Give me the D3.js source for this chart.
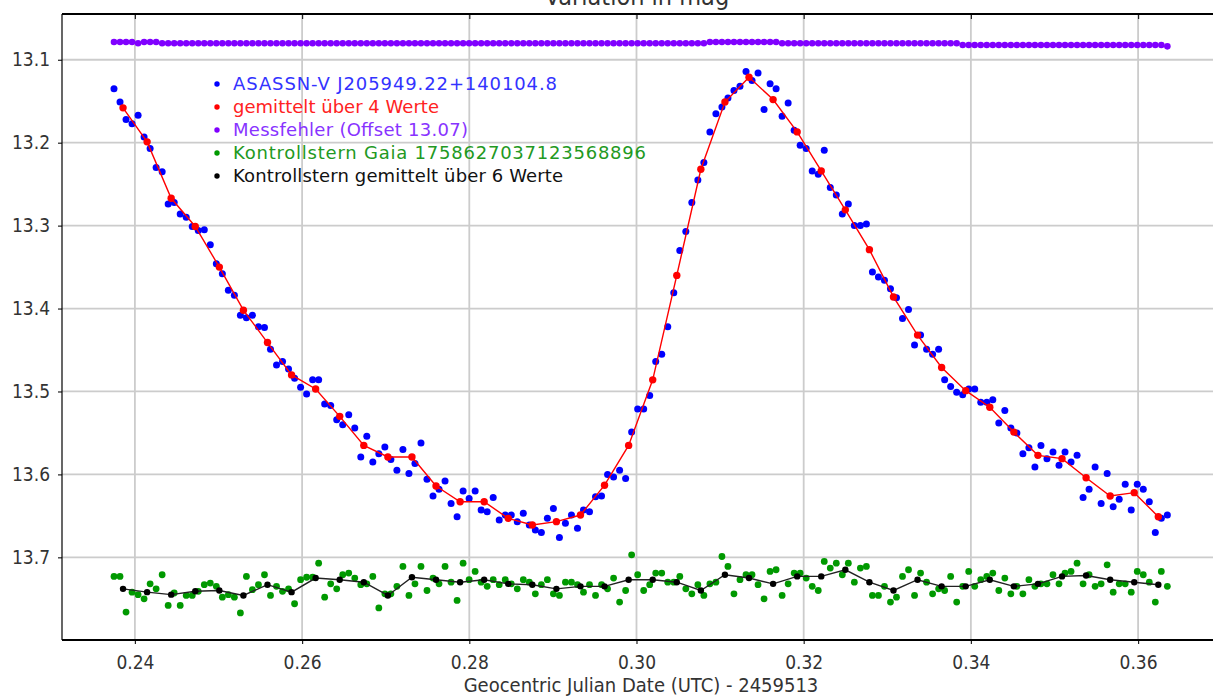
<!DOCTYPE html>
<html>
<head>
<meta charset="utf-8">
<script src="https://cdn.jsdelivr.net/npm/d3@7"></script>
<style>
  body { margin: 0; background: #fff; }
  svg { display: block; }
</style>
</head>
<body>
<div id="chart"></div>
<script>
// geocentric JD - 2459513, one entry per measurement
const times = [
  0.23750,0.23822,0.23894,0.23966,0.24038,0.24110,0.24182,0.24254,0.24326,0.24398,
  0.24470,0.24542,0.24614,0.24686,0.24758,0.24830,0.24902,0.24974,0.25046,0.25118,
  0.25190,0.25262,0.25334,0.25406,0.25478,0.25550,0.25622,0.25694,0.25766,0.25838,
  0.25910,0.25982,0.26054,0.26126,0.26198,0.26270,0.26342,0.26414,0.26486,0.26558,
  0.26630,0.26702,0.26774,0.26846,0.26918,0.26990,0.27062,0.27134,0.27206,0.27278,
  0.27350,0.27422,0.27494,0.27566,0.27638,0.27710,0.27782,0.27854,0.27926,0.27998,
  0.28070,0.28142,0.28214,0.28286,0.28358,0.28430,0.28502,0.28574,0.28646,0.28718,
  0.28790,0.28862,0.28934,0.29006,0.29078,0.29150,0.29222,0.29294,0.29366,0.29438,
  0.29510,0.29582,0.29654,0.29726,0.29798,0.29870,0.29942,0.30014,0.30086,0.30158,
  0.30230,0.30302,0.30374,0.30446,0.30518,0.30590,0.30662,0.30734,0.30806,0.30878,
  0.30950,0.31022,0.31094,0.31166,0.31238,0.31310,0.31382,0.31454,0.31526,0.31598,
  0.31670,0.31742,0.31814,0.31886,0.31958,0.32030,0.32102,0.32174,0.32246,0.32318,
  0.32390,0.32462,0.32534,0.32606,0.32678,0.32750,0.32822,0.32894,0.32966,0.33038,
  0.33110,0.33182,0.33254,0.33326,0.33398,0.33470,0.33542,0.33614,0.33686,0.33758,
  0.33830,0.33902,0.33974,0.34046,0.34118,0.34190,0.34262,0.34334,0.34406,0.34478,
  0.34550,0.34622,0.34694,0.34766,0.34838,0.34910,0.34982,0.35054,0.35126,0.35198,
  0.35270,0.35342,0.35414,0.35486,0.35558,0.35630,0.35702,0.35774,0.35846,0.35918,
  0.35990,0.36062,0.36134,0.36206,0.36278,0.36350
];

// ASASSN-V J205949.22+140104.8 (mag)
const asassnMag = [
  13.135,13.151,13.172,13.177,13.167,13.193,13.207,13.230,13.235,13.274,
  13.272,13.286,13.290,13.301,13.306,13.305,13.323,13.346,13.358,13.378,
  13.384,13.408,13.411,13.408,13.422,13.423,13.449,13.468,13.464,13.473,
  13.484,13.495,13.503,13.486,13.486,13.515,13.517,13.534,13.540,13.528,
  13.544,13.579,13.554,13.585,13.575,13.567,13.582,13.595,13.570,13.599,
  13.587,13.562,13.606,13.626,13.618,13.608,13.635,13.651,13.620,13.629,
  13.620,13.643,13.645,13.628,13.655,13.649,13.649,13.657,13.647,13.661,
  13.667,13.670,13.653,13.641,13.676,13.659,13.649,13.665,13.643,13.645,
  13.627,13.626,13.600,13.603,13.595,13.605,13.549,13.521,13.521,13.505,
  13.464,13.455,13.422,13.381,13.330,13.307,13.272,13.245,13.224,13.187,
  13.165,13.157,13.146,13.137,13.132,13.114,13.125,13.116,13.160,13.129,
  13.135,13.168,13.152,13.185,13.203,13.207,13.234,13.238,13.209,13.254,
  13.263,13.286,13.274,13.300,13.300,13.298,13.356,13.362,13.366,13.376,
  13.387,13.412,13.401,13.444,13.432,13.449,13.455,13.449,13.486,13.494,
  13.501,13.504,13.497,13.497,13.513,13.513,13.510,13.538,13.523,13.544,
  13.550,13.575,13.568,13.591,13.565,13.581,13.573,13.589,13.573,13.585,
  13.577,13.628,13.618,13.591,13.635,13.599,13.639,13.630,13.612,13.643,
  13.612,13.618,13.633,13.670,13.653,13.649
];

// times of the averaged points
const meanTimes = [
  0.23858,0.24146,0.24434,0.24722,0.25010,0.25298,0.25586,0.25874,0.26162,0.26450,
  0.26738,0.27026,0.27314,0.27602,0.27890,0.28178,0.28466,0.28754,0.29042,0.29330,
  0.29618,0.29906,0.30194,0.30482,0.30770,0.31058,0.31346,0.31634,0.31922,0.32210,
  0.32498,0.32786,0.33074,0.33362,0.33650,0.33938,0.34226,0.34514,0.34802,0.35090,
  0.35378,0.35666,0.35954,0.36242
];

// gemittelt über 4 Werte
const meanMag = [
  13.158,13.199,13.267,13.301,13.350,13.402,13.441,13.480,13.497,13.530,
  13.565,13.579,13.579,13.614,13.633,13.633,13.653,13.661,13.657,13.649,
  13.613,13.565,13.486,13.360,13.232,13.151,13.121,13.148,13.187,13.234,
  13.281,13.329,13.386,13.432,13.471,13.499,13.519,13.549,13.577,13.581,
  13.604,13.626,13.622,13.651
];

// Messfehler, plotted at offset 13.07
const errOffset = 13.07;
const messfehler = [
  0.0085,0.0085,0.0085,0.0085,0.0100,0.0085,0.0085,0.0085,0.0100,0.0100,
  0.0100,0.0100,0.0100,0.0100,0.0100,0.0100,0.0100,0.0100,0.0100,0.0100,
  0.0100,0.0100,0.0100,0.0100,0.0100,0.0100,0.0100,0.0100,0.0100,0.0100,
  0.0100,0.0100,0.0100,0.0100,0.0100,0.0100,0.0100,0.0100,0.0100,0.0100,
  0.0100,0.0100,0.0100,0.0100,0.0100,0.0100,0.0100,0.0100,0.0100,0.0100,
  0.0100,0.0100,0.0100,0.0100,0.0100,0.0100,0.0100,0.0100,0.0100,0.0100,
  0.0100,0.0100,0.0100,0.0100,0.0100,0.0100,0.0100,0.0100,0.0100,0.0100,
  0.0100,0.0100,0.0100,0.0100,0.0100,0.0100,0.0100,0.0100,0.0100,0.0100,
  0.0100,0.0100,0.0100,0.0100,0.0100,0.0100,0.0100,0.0100,0.0100,0.0100,
  0.0100,0.0100,0.0100,0.0100,0.0100,0.0100,0.0100,0.0100,0.0100,0.0085,
  0.0085,0.0085,0.0085,0.0085,0.0085,0.0085,0.0085,0.0085,0.0085,0.0085,
  0.0085,0.0100,0.0100,0.0100,0.0100,0.0100,0.0100,0.0100,0.0100,0.0100,
  0.0100,0.0100,0.0100,0.0100,0.0100,0.0100,0.0100,0.0100,0.0100,0.0100,
  0.0100,0.0100,0.0100,0.0100,0.0100,0.0100,0.0100,0.0100,0.0100,0.0100,
  0.0100,0.0122,0.0122,0.0122,0.0122,0.0122,0.0122,0.0122,0.0122,0.0122,
  0.0122,0.0122,0.0122,0.0122,0.0122,0.0122,0.0122,0.0122,0.0122,0.0122,
  0.0122,0.0122,0.0122,0.0122,0.0122,0.0122,0.0122,0.0122,0.0122,0.0122,
  0.0122,0.0122,0.0122,0.0122,0.0122,0.0138
];

// Kontrollstern Gaia 1758627037123568896
const gaiaMag = [
  13.723,13.723,13.766,13.742,13.745,13.750,13.732,13.738,13.721,13.758,
  13.743,13.758,13.746,13.746,13.741,13.733,13.731,13.735,13.748,13.745,
  13.748,13.767,13.723,13.739,13.733,13.721,13.746,13.735,13.741,13.738,
  13.756,13.727,13.724,13.724,13.707,13.748,13.732,13.738,13.721,13.719,
  13.725,13.733,13.732,13.723,13.761,13.744,13.744,13.735,13.711,13.746,
  13.732,13.711,13.740,13.725,13.732,13.711,13.730,13.752,13.707,13.727,
  13.717,13.730,13.735,13.727,13.733,13.727,13.732,13.738,13.727,13.730,
  13.744,13.733,13.727,13.744,13.746,13.730,13.730,13.733,13.742,13.733,
  13.746,13.733,13.738,13.725,13.754,13.740,13.697,13.721,13.740,13.733,
  13.719,13.719,13.730,13.730,13.723,13.738,13.744,13.733,13.746,13.732,
  13.730,13.699,13.711,13.744,13.727,13.721,13.721,13.733,13.750,13.717,
  13.715,13.746,13.732,13.719,13.719,13.725,13.735,13.740,13.705,13.713,
  13.707,13.721,13.707,13.730,13.713,13.711,13.746,13.746,13.735,13.754,
  13.748,13.723,13.715,13.746,13.719,13.730,13.744,13.738,13.740,13.723,
  13.754,13.735,13.717,13.735,13.727,13.723,13.719,13.740,13.725,13.744,
  13.735,13.744,13.727,13.735,13.732,13.732,13.721,13.732,13.719,13.717,
  13.707,13.732,13.721,13.735,13.732,13.709,13.742,13.732,13.732,13.742,
  13.717,13.721,13.730,13.754,13.717,13.735
];

// Kontrollstern gemittelt über 6 Werte
const gaiaMeanMag = [
  13.738,13.742,13.745,13.741,13.740,13.746,13.733,13.742,13.725,13.727,
  13.730,13.746,13.724,13.727,13.730,13.727,13.732,13.733,13.738,13.735,
  13.735,13.727,13.727,13.730,13.740,13.721,13.725,13.732,13.723,13.723,
  13.715,13.730,13.740,13.727,13.735,13.735,13.727,13.735,13.732,13.723,
  13.722,13.727,13.730,13.733
];

const xTicks = [0.24, 0.26, 0.28, 0.30, 0.32, 0.34, 0.36];
const yTicks = [13.1, 13.2, 13.3, 13.4, 13.5, 13.6, 13.7];

const legendLabels = [
  "ASASSN-V J205949.22+140104.8",
  "gemittelt über 4 Werte",
  "Messfehler (Offset 13.07)",
  "Kontrollstern Gaia 1758627037123568896",
  "Kontrollstern gemittelt über 6 Werte"
];
const legendColors = ["#0000ff", "#ff0000", "#8000ff", "#009900", "#000000"];
const legendTextColors = ["#3333ff", "#ff2222", "#8833ff", "#229922", "#111111"];
// rendered widths of the legend texts in the original
const legendTextWidths = [324, 206, 235, 413, 330];

const W = 1213, H = 697;
const margin = {top: 14, left: 62, bottom: 57};
const plotRight = 1216;
const tickFont = "'DejaVu Sans Condensed', 'Liberation Sans Narrow', sans-serif";

const svg = d3.select("#chart").append("svg")
  .attr("width", W).attr("height", H)
  .style("background", "#fff");

const x = d3.scaleLinear().domain([0.23128, 0.36932]).range([margin.left, plotRight]);
const y = d3.scaleLinear().domain([13.0448, 13.7997]).range([margin.top, H - margin.bottom]);
const bottomY = H - margin.bottom;

// grid
const grid = svg.append("g").attr("class", "grid");
grid.selectAll(".vgrid").data(xTicks).join("line")
  .attr("x1", d => x(d)).attr("x2", d => x(d))
  .attr("y1", margin.top).attr("y2", bottomY)
  .attr("stroke", "#cccccc").attr("stroke-width", 1.8);
grid.selectAll(".hgrid").data(yTicks).join("line")
  .attr("x1", margin.left).attr("x2", plotRight)
  .attr("y1", d => y(d)).attr("y2", d => y(d))
  .attr("stroke", "#cccccc").attr("stroke-width", 1.8);

// axes
const xAxisG = svg.append("g")
  .attr("transform", "translate(0," + bottomY + ")")
  .call(d3.axisBottom(x).tickValues(xTicks).tickFormat(d3.format(".2f"))
    .tickSize(4).tickSizeOuter(0).tickPadding(12));
const topAxisG = svg.append("g")
  .attr("transform", "translate(0," + margin.top + ")")
  .call(d3.axisTop(x).tickValues(xTicks).tickFormat("").tickSize(-5).tickSizeOuter(0));
const yAxisG = svg.append("g")
  .attr("transform", "translate(" + margin.left + ",0)")
  .call(d3.axisLeft(y).tickValues(yTicks).tickFormat(d3.format(".1f"))
    .tickSize(4).tickSizeOuter(0).tickPadding(8));

[xAxisG, topAxisG, yAxisG].forEach(g => {
  g.select(".domain").remove();
  g.selectAll(".tick line").attr("stroke", "#222").attr("stroke-width", 1.2);
  g.selectAll("text")
    .attr("font-family", tickFont).attr("font-size", 19).attr("fill", "#333");
});

// frame
svg.append("line").attr("x1", margin.left).attr("x2", W)
  .attr("y1", margin.top).attr("y2", margin.top)
  .attr("stroke", "#000").attr("stroke-width", 2);
svg.append("line").attr("x1", margin.left).attr("x2", W)
  .attr("y1", bottomY).attr("y2", bottomY)
  .attr("stroke", "#000").attr("stroke-width", 2);
svg.append("line").attr("x1", margin.left).attr("x2", margin.left)
  .attr("y1", margin.top).attr("y2", bottomY)
  .attr("stroke", "#000").attr("stroke-width", 1.2);

// titles (the chart title is clipped at the top edge, as in the original)
svg.append("text")
  .attr("x", 637).attr("y", 5)
  .attr("text-anchor", "middle")
  .attr("font-family", tickFont).attr("font-size", 25).attr("fill", "#333")
  .text("Variation in mag");
svg.append("text")
  .attr("x", 641).attr("y", 692)
  .attr("text-anchor", "middle")
  .attr("font-family", tickFont).attr("font-size", 20).attr("fill", "#333")
  .text("Geocentric Julian Date (UTC) - 2459513");

const line = d3.line().x(d => x(d[0])).y(d => y(d[1]));

const drawDots = (cls, pts, color, r) => {
  svg.append("g").attr("class", cls)
    .selectAll("circle").data(pts).join("circle")
    .attr("cx", d => x(d[0])).attr("cy", d => y(d[1]))
    .attr("r", r).attr("fill", color);
};

// Messfehler
drawDots("errDots", times.map((t, i) => [t, errOffset + messfehler[i]]), "#8000ff", 3.3);

// variable star
drawDots("starDots", times.map((t, i) => [t, asassnMag[i]]), "#0000ff", 3.5);
const meanPts = meanTimes.map((t, i) => [t, meanMag[i]]);
svg.append("path").datum(meanPts)
  .attr("d", line).attr("fill", "none")
  .attr("stroke", "#ff0000").attr("stroke-width", 1.4);
drawDots("meanDots", meanPts, "#ff0000", 3.7);

// comparison star
drawDots("gaiaDots", times.map((t, i) => [t, gaiaMag[i]]), "#009900", 3.4);
const gaiaMeanPts = meanTimes.map((t, i) => [t, gaiaMeanMag[i]]);
svg.append("path").datum(gaiaMeanPts)
  .attr("d", line).attr("fill", "none")
  .attr("stroke", "#222").attr("stroke-width", 1.4);
drawDots("gaiaMeanDots", gaiaMeanPts, "#000", 3.2);

// legend
const legend = svg.append("g").attr("transform", "translate(217,84)");
const rows = legend.selectAll("g").data(legendLabels).join("g")
  .attr("transform", (d, i) => "translate(0," + (i * 23) + ")");
rows.append("circle").attr("r", 2.7).attr("fill", (d, i) => legendColors[i]);
rows.append("text")
  .attr("x", 16).attr("dy", "0.36em")
  .attr("font-family", "'DejaVu Sans', Verdana, sans-serif")
  .attr("font-size", 18)
  .attr("textLength", (d, i) => legendTextWidths[i])
  .attr("lengthAdjust", "spacing")
  .attr("fill", (d, i) => legendTextColors[i])
  .text(d => d);
</script>
</body>
</html>
